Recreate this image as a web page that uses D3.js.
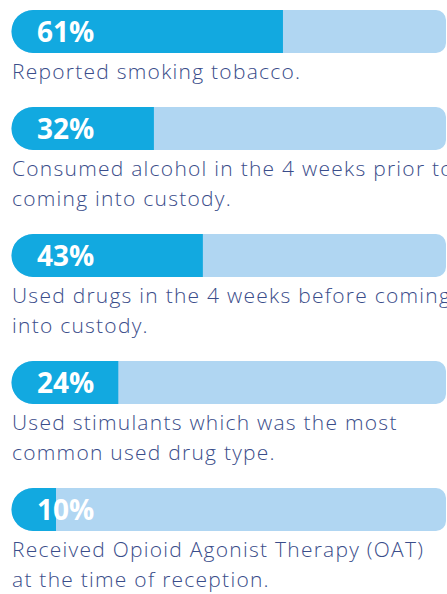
<!DOCTYPE html>
<html>
<head>
<meta charset="utf-8">
<script src="https://cdn.jsdelivr.net/npm/d3@7"></script>
<style>
  html, body { margin: 0; padding: 0; background: #ffffff; overflow: hidden; }
  svg { display: block; }
</style>
</head>
<body>
<div id="chart"></div>
<script>
// ---- data ----
const values = [61, 32, 43, 24, 10];
const valueLabels = ["61%", "32%", "43%", "24%", "10%"];
const descriptions = [
  ["Reported smoking tobacco."],
  ["Consumed alcohol in the 4 weeks prior to", "coming into custody."],
  ["Used drugs in the 4 weeks before coming", "into custody."],
  ["Used stimulants which was the most", "common used drug type."],
  ["Received Opioid Agonist Therapy (OAT)", "at the time of reception."]
];

// ---- layout ----
const W = 447, H = 594;
const barH = 43;
const firstTop = 10;
const labelGap = 26;     // bar bottom to first text baseline
const lineH = 30;
const blockGap = 28;     // last baseline to next bar top
const trackEnd = 446;
const rLeft = barH / 2, rRight = 10;

const x = d3.scaleLinear().domain([0, 100]).range([11.5, 456.5]);

const fillColor = "#12a9e0";
const trackColor = "#b0d6f2";
const textColor = "#3a4d8a";

// cumulative block tops
const tops = [];
let t = firstTop;
descriptions.forEach(lines => {
  tops.push(t);
  t += barH + labelGap + (lines.length - 1) * lineH + blockGap;
});

const data = values.map((v, i) => ({ v, label: valueLabels[i], lines: descriptions[i], top: tops[i] }));

const svg = d3.select("#chart").append("svg")
  .attr("width", W).attr("height", H);

function roundedBar(x0, x1, y0, h, rl, rr) {
  const p = d3.path();
  p.moveTo(x0 + rl, y0);
  p.lineTo(x1 - rr, y0);
  if (rr > 0) p.arcTo(x1, y0, x1, y0 + rr, rr);
  p.lineTo(x1, y0 + h - rr);
  if (rr > 0) p.arcTo(x1, y0 + h, x1 - rr, y0 + h, rr);
  p.lineTo(x0 + rl, y0 + h);
  p.arcTo(x0, y0 + h, x0, y0 + h - rl, rl);
  p.lineTo(x0, y0 + rl);
  p.arcTo(x0, y0, x0 + rl, y0, rl);
  p.closePath();
  return p.toString();
}

const g = svg.selectAll("g.item").data(data).join("g").attr("class", "item");

g.append("path")
  .attr("d", d => roundedBar(x(0), trackEnd, d.top, barH, rLeft, rRight))
  .attr("fill", trackColor);

g.append("path")
  .attr("d", d => roundedBar(x(0), x(d.v), d.top, barH, Math.min(rLeft, x(d.v) - x(0)), 0))
  .attr("fill", fillColor);

g.append("text")
  .attr("x", 37)
  .attr("y", d => d.top + 32)
  .attr("fill", "#ffffff")
  .attr("font-family", "'Open Sans', sans-serif")
  .attr("font-weight", 700)
  .attr("font-size", 28)
  .text(d => d.label);

g.each(function(d) {
  const sel = d3.select(this);
  d.lines.forEach((line, j) => {
    sel.append("text")
      .attr("x", 12)
      .attr("y", d.top + barH + labelGap + j * lineH)
      .attr("fill", textColor)
      .attr("font-family", "'Open Sans', sans-serif")
      .attr("font-weight", 300)
      .attr("font-size", 21)
      .attr("letter-spacing", 1.25)
      .text(line);
  });
});
</script>
</body>
</html>
